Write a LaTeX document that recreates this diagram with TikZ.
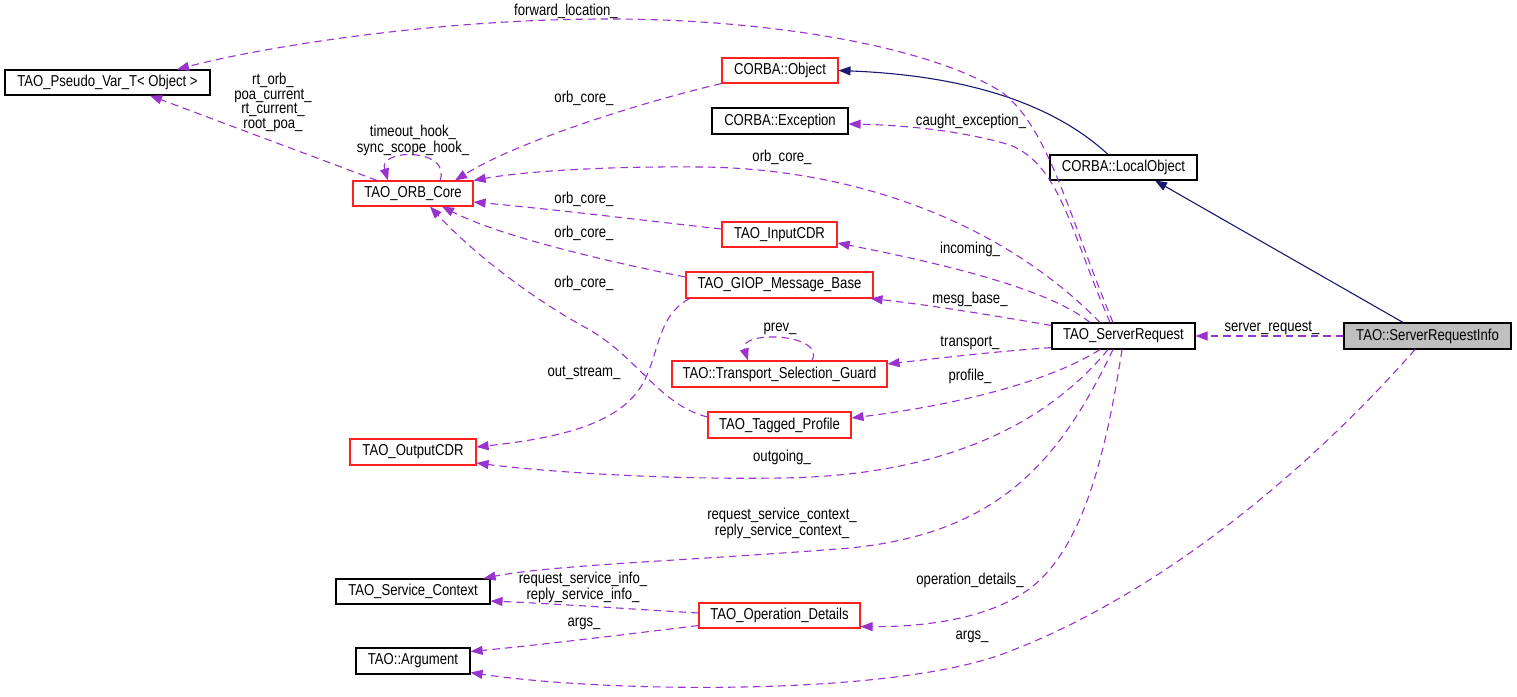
\documentclass[tikz,border=0pt]{standalone}
\usepackage{fontspec}
\setmainfont{Liberation Sans}[FakeStretch=0.83]
\usetikzlibrary{arrows.meta,calc}
\definecolor{dep}{HTML}{9A32CD}
\definecolor{inh}{HTML}{191970}
\definecolor{boxred}{HTML}{FF2020}
\definecolor{boxgray}{HTML}{BFBFBF}
\tikzset{
  cls/.style={draw=black, line width=1.1pt, fill=white, inner sep=0pt, font=\fontsize{15.8}{17}\selectfont},
  redcls/.style={cls, draw=boxred},
  curcls/.style={cls, fill=boxgray},
  depedge/.style={draw=dep, line width=1.1pt, dash pattern=on 7.5pt off 5pt, -{Triangle[length=12pt,width=9pt,fill=dep]}},
  inhedge/.style={draw=inh, line width=1.1pt, -{Triangle[length=12pt,width=9pt,fill=inh]}},
  lbl/.style={inner sep=0pt, align=center, font=\fontsize{15.8}{14.4}\selectfont}
}
\begin{document}
\begin{tikzpicture}[x=1pt,y=-1pt]
\useasboundingbox (0,0) rectangle (1517,696);
% nodes
\node[cls, minimum width=205pt, minimum height=25pt] (pvt) at (107.5,82.5) {TAO\_Pseudo\_Var\_T< Object >};
\node[redcls, minimum width=116pt, minimum height=25pt] (cobj) at (780,70.5) {CORBA::Object};
\node[cls, minimum width=136pt, minimum height=26pt] (exc) at (780,121) {CORBA::Exception};
\node[cls, minimum width=147pt, minimum height=25pt] (lo) at (1123.5,167.5) {CORBA::LocalObject};
\node[redcls, minimum width=120pt, minimum height=25pt] (orb) at (413,193.5) {TAO\_ORB\_Core};
\node[redcls, minimum width=115pt, minimum height=25pt] (icdr) at (779.5,234.5) {TAO\_InputCDR};
\node[redcls, minimum width=187pt, minimum height=26pt] (giop) at (779.5,285) {TAO\_GIOP\_Message\_Base};
\node[redcls, minimum width=215pt, minimum height=26pt] (tsg) at (779.5,374) {TAO::Transport\_Selection\_Guard};
\node[redcls, minimum width=143pt, minimum height=26pt] (tp) at (779.5,425) {TAO\_Tagged\_Profile};
\node[redcls, minimum width=126pt, minimum height=26pt] (ocdr) at (413,452) {TAO\_OutputCDR};
\node[cls, minimum width=143pt, minimum height=26pt] (sr) at (1123.5,336) {TAO\_ServerRequest};
\node[curcls, minimum width=167pt, minimum height=26pt] (sri) at (1427.5,336) {TAO::ServerRequestInfo};
\node[cls, minimum width=154pt, minimum height=25pt] (sc) at (413,591.5) {TAO\_Service\_Context};
\node[redcls, minimum width=161pt, minimum height=25pt] (od) at (779.5,615.5) {TAO\_Operation\_Details};
\node[cls, minimum width=114pt, minimum height=26pt] (arg) at (413,661) {TAO::Argument};

% inheritance
\draw[inhedge] ([xshift=-24.5pt]sri.north) -- ([xshift=31.5pt]lo.south);
\draw[inhedge] ([xshift=-15.5pt]lo.north) .. controls (1060,110) and (980,76) .. (cobj.east);

% dependencies from TAO::ServerRequestInfo
\draw[depedge] (sri.west) -- (sr.east);
\draw[depedge] ([xshift=-12.5pt]sri.south) .. controls (1300,480) and (1150,600) .. (1000,655) .. controls (880,697) and (600,692) .. ([yshift=2pt]arg.south east);

% dependencies from TAO_ServerRequest
\draw[depedge] ([xshift=-10.5pt]sr.north) .. controls (1070,220) and (1050,130) .. (1003,93) .. controls (930,45) and (760,18) .. (600,19) .. controls (420,20) and (250,50) .. ([xshift=69.5pt]pvt.north);
\draw[depedge] ([xshift=-13.5pt]sr.north) .. controls (1070,230) and (1060,165) .. (1010,145) .. controls (960,130) and (900,125) .. ([yshift=-3pt]exc.east);
\draw[depedge] ([xshift=-23.5pt]sr.north) .. controls (1000,220) and (850,168) .. (700,167) .. controls (600,166) and (520,172) .. (orb.north east);
\draw[depedge] ([xshift=-33.5pt]sr.north) .. controls (1050,290) and (950,265) .. ([yshift=-8.5pt]icdr.east);
\draw[depedge] ([yshift=-3pt]sr.north west) .. controls (990,315) and (930,305) .. ([xshift=-3pt]giop.south east);
\draw[depedge] ([yshift=2pt]sr.south west) .. controls (990,352) and (940,358) .. ([yshift=10pt]tsg.east);
\draw[depedge] ([xshift=-23.5pt]sr.south) .. controls (1060,375) and (980,402) .. ([yshift=7pt]tp.east);
\draw[depedge] ([xshift=-15.5pt]sr.south) .. controls (1050,420) and (950,476) .. (780,478) .. controls (650,480) and (530,470) .. ([yshift=-11pt]ocdr.east);
\draw[depedge] ([xshift=-10.5pt]sr.south) .. controls (1060,460) and (1000,533) .. (850,548) .. controls (700,560) and (550,565) .. ([xshift=-7pt]sc.north east);
\draw[depedge] ([xshift=-1.5pt]sr.south) .. controls (1105,460) and (1080,560) .. (1020,595) .. controls (980,620) and (920,627) .. ([yshift=2pt]od.south east);

% other dependencies
\draw[depedge] (cobj.south west) .. controls (650,100) and (520,140) .. ([xshift=42pt]orb.north);
\draw[depedge] ([yshift=5.5pt]icdr.west) .. controls (640,220) and (560,210) .. ([yshift=-8.5pt]orb.east);
\draw[depedge] ([yshift=8pt]giop.west) .. controls (600,260) and (500,236) .. ([xshift=29pt]orb.south);
\draw[depedge] ([yshift=8pt]tp.west) .. controls (660,405) and (640,360) .. (590,330) .. controls (530,298) and (470,250) .. ([xshift=17pt]orb.south);
\draw[depedge] ([xshift=4pt]giop.south west) .. controls (650,320) and (662,370) .. (630,400) .. controls (600,430) and (540,440) .. ([yshift=5pt]ocdr.east);
\draw[depedge] ([xshift=27pt]orb.north) .. controls (452,148) and (378,148) .. ([xshift=-25pt]orb.north);
\draw[depedge] ([xshift=-36pt]orb.north) -- ([xshift=42.5pt]pvt.south);
\draw[depedge] ([xshift=32.5pt]tsg.north) .. controls (826,333) and (738,330) .. ([xshift=-31.5pt]tsg.north);
\draw[depedge] ([yshift=2.5pt]od.west) .. controls (630,609) and (560,604) .. ([yshift=-9.5pt]sc.east);
\draw[depedge] ([yshift=3pt]od.south west) .. controls (620,635) and (540,645) .. ([yshift=-4pt]arg.north east);

% labels
\node[lbl] (l1) at (566,11) {forward\_location\_};
\node[lbl] (l2) at (584,98) {orb\_core\_};
\node[lbl] (l3) at (413,140.5) {timeout\_hook\_\\sync\_scope\_hook\_};
\node[lbl] (l4) at (273,102.5) {rt\_orb\_\\poa\_current\_\\rt\_current\_\\root\_poa\_};
\node[lbl] (l5) at (971,121) {caught\_exception\_};
\node[lbl] (l6) at (782,157) {orb\_core\_};
\node[lbl] (l7) at (584,199) {orb\_core\_};
\node[lbl] (l8) at (584,233) {orb\_core\_};
\node[lbl] (l9) at (584,283) {orb\_core\_};
\node[lbl] (l10) at (970,249) {incoming\_};
\node[lbl] (l11) at (970,299) {mesg\_base\_};
\node[lbl] (l12) at (780,329) {prev\_};
\node[lbl] (l13) at (970,343) {transport\_};
\node[lbl] (l14) at (970,376) {profile\_};
\node[lbl] (l15) at (584,373) {out\_stream\_};
\node[lbl] (l16) at (782,457) {outgoing\_};
\node[lbl] (l17) at (1272,328) {server\_request\_};
\node[lbl] (l18) at (782,523.5) {request\_service\_context\_\\reply\_service\_context\_};
\node[lbl] (l19) at (583,587.5) {request\_service\_info\_\\reply\_service\_info\_};
\node[lbl] (l20) at (970,580) {operation\_details\_};
\node[lbl] (l21) at (584,624) {args\_};
\node[lbl] (l22) at (972,637) {args\_};
\end{tikzpicture}
\end{document}
